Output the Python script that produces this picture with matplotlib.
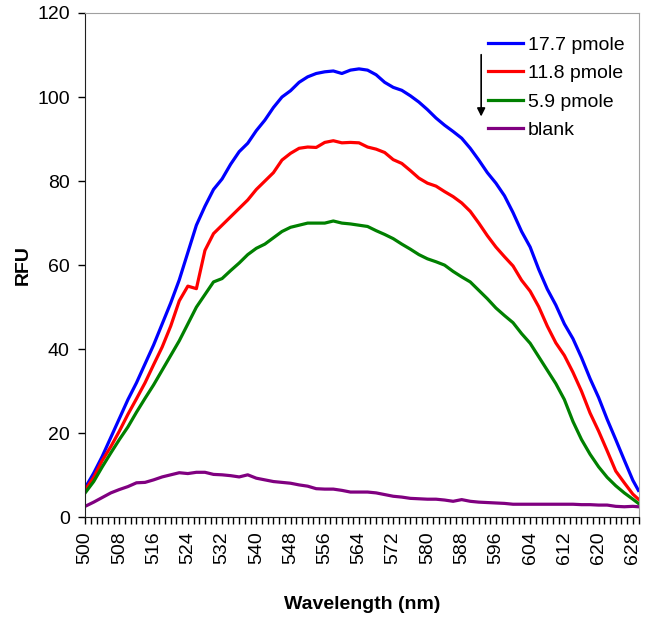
import numpy as np
import matplotlib
matplotlib.use("Agg")
import matplotlib.pyplot as plt

plt.rcParams['font.family'] = ['Liberation Sans', 'DejaVu Sans']

wavelength = list(range(500, 630, 2)) + [629.3]

pmol_17_7 = [7.0, 10.5, 14.5, 19.0, 23.5, 28.0, 32.0, 36.5, 41.0, 46.0,
             51.0, 56.5, 63.0, 69.5, 74.0, 78.0, 80.5, 84.0, 87.0, 89.0,
             92.0, 94.5, 97.5, 100.0, 101.5, 103.5, 104.8, 105.6, 106.0, 106.2,
             105.6, 106.4, 106.7, 106.4, 105.3, 103.5, 102.3, 101.6, 100.3, 98.8,
             97.0, 95.0, 93.3, 91.8, 90.2, 87.8, 85.0, 82.0, 79.5, 76.5,
             72.5, 68.0, 64.3, 59.0, 54.3, 50.5, 46.0, 42.5, 38.0, 33.0,
             28.5, 23.3, 18.5, 13.6, 8.8, 6.4]

pmol_11_8 = [6.5, 9.5, 13.5, 16.8, 20.5, 24.5, 28.2, 32.0, 36.3, 40.5,
             45.5, 51.5, 55.0, 54.4, 63.5, 67.5, 69.5, 71.5, 73.5, 75.5,
             78.0, 80.0, 82.0, 85.0, 86.6, 87.8, 88.1, 88.0, 89.2, 89.6,
             89.1, 89.2, 89.1, 88.1, 87.6, 86.8, 85.1, 84.2, 82.5, 80.7,
             79.5, 78.8, 77.5, 76.3, 74.8, 72.8, 70.0, 67.0, 64.3, 62.0,
             59.8, 56.4, 53.8, 50.1, 45.5, 41.5, 38.5, 34.5, 30.0, 24.8,
             20.5, 15.8, 11.0, 8.2, 5.5, 4.3]

pmol_5_9 = [5.8, 8.5, 12.0, 15.3, 18.5, 21.5, 25.0, 28.3, 31.5, 35.0,
            38.5, 42.0, 46.0, 50.0, 53.0, 56.0, 56.8, 58.7, 60.5, 62.5,
            64.0, 65.0, 66.5, 68.0, 69.0, 69.5, 70.0, 70.0, 70.0, 70.5,
            70.0, 69.8, 69.5, 69.2, 68.2, 67.3, 66.3, 65.0, 63.8, 62.5,
            61.5, 60.8, 60.0, 58.5, 57.2, 56.0, 54.0, 52.0, 49.8, 48.0,
            46.3, 43.7, 41.4, 38.2, 35.0, 31.8, 28.0, 22.8, 18.5, 15.0,
            12.0, 9.5, 7.5, 5.8, 4.3, 3.3]

blank = [2.6, 3.6, 4.7, 5.8, 6.6, 7.3, 8.2, 8.3, 8.9, 9.6,
         10.1, 10.6, 10.4, 10.7, 10.7, 10.2, 10.1, 9.9, 9.6, 10.1,
         9.3, 8.9, 8.5, 8.3, 8.1, 7.7, 7.4, 6.8, 6.7, 6.7,
         6.4, 6.0, 6.0, 6.0, 5.8, 5.4, 5.0, 4.8, 4.5, 4.4,
         4.3, 4.3, 4.1, 3.8, 4.2, 3.8, 3.6, 3.5, 3.4, 3.3,
         3.1, 3.1, 3.1, 3.1, 3.1, 3.1, 3.1, 3.1, 3.0, 3.0,
         2.9, 2.9, 2.6, 2.5, 2.6, 2.5]

series = [
    (pmol_17_7, '17.7 pmole', '#0000ff'),
    (pmol_11_8, '11.8 pmole', '#ff0000'),
    (pmol_5_9, '5.9 pmole', '#008000'),
    (blank, 'blank', '#800080'),
]

fig = plt.figure(figsize=(6.45, 6.18), dpi=100)
ax = fig.add_axes([0.132, 0.163, 0.858, 0.816])

for y, label, color in series:
    ax.plot(wavelength, y, color=color, lw=2.3, label=label, solid_joinstyle='round')

ax.set_xlim(500, 629.33)
ax.set_ylim(0, 120)

ax.set_xticks(np.arange(500, 629, 8))
ax.set_xticks(500 + np.arange(0, 98) * 4 / 3, minor=True)
ax.tick_params(axis='x', which='both', length=5, width=1, direction='out',
               labelrotation=90, labelsize=14, pad=5)
ax.set_yticks(range(0, 121, 20))
ax.tick_params(axis='y', length=5, width=1, direction='out', labelsize=14, pad=6)

for side in ['top', 'right']:
    ax.spines[side].set_color('#a0a0a0')
for side in ['left', 'bottom']:
    ax.spines[side].set_color('#202020')

ax.set_xlabel('Wavelength (nm)', fontsize=14, fontweight='bold', labelpad=23)
ax.set_ylabel('RFU', fontsize=14, fontweight='bold', labelpad=4)

fig.legend(loc='upper left', bbox_to_anchor=(0.7295, 0.97), frameon=False,
           fontsize=14, handlelength=1.8, handletextpad=0.25, labelspacing=0.56)

ax.annotate('', xy=(0.746, 0.807), xytext=(0.746, 0.916),
            xycoords='figure fraction', textcoords='figure fraction',
            arrowprops=dict(arrowstyle='-|>', color='black', lw=1.2, mutation_scale=12))

fig.savefig('out.png', dpi=100)
